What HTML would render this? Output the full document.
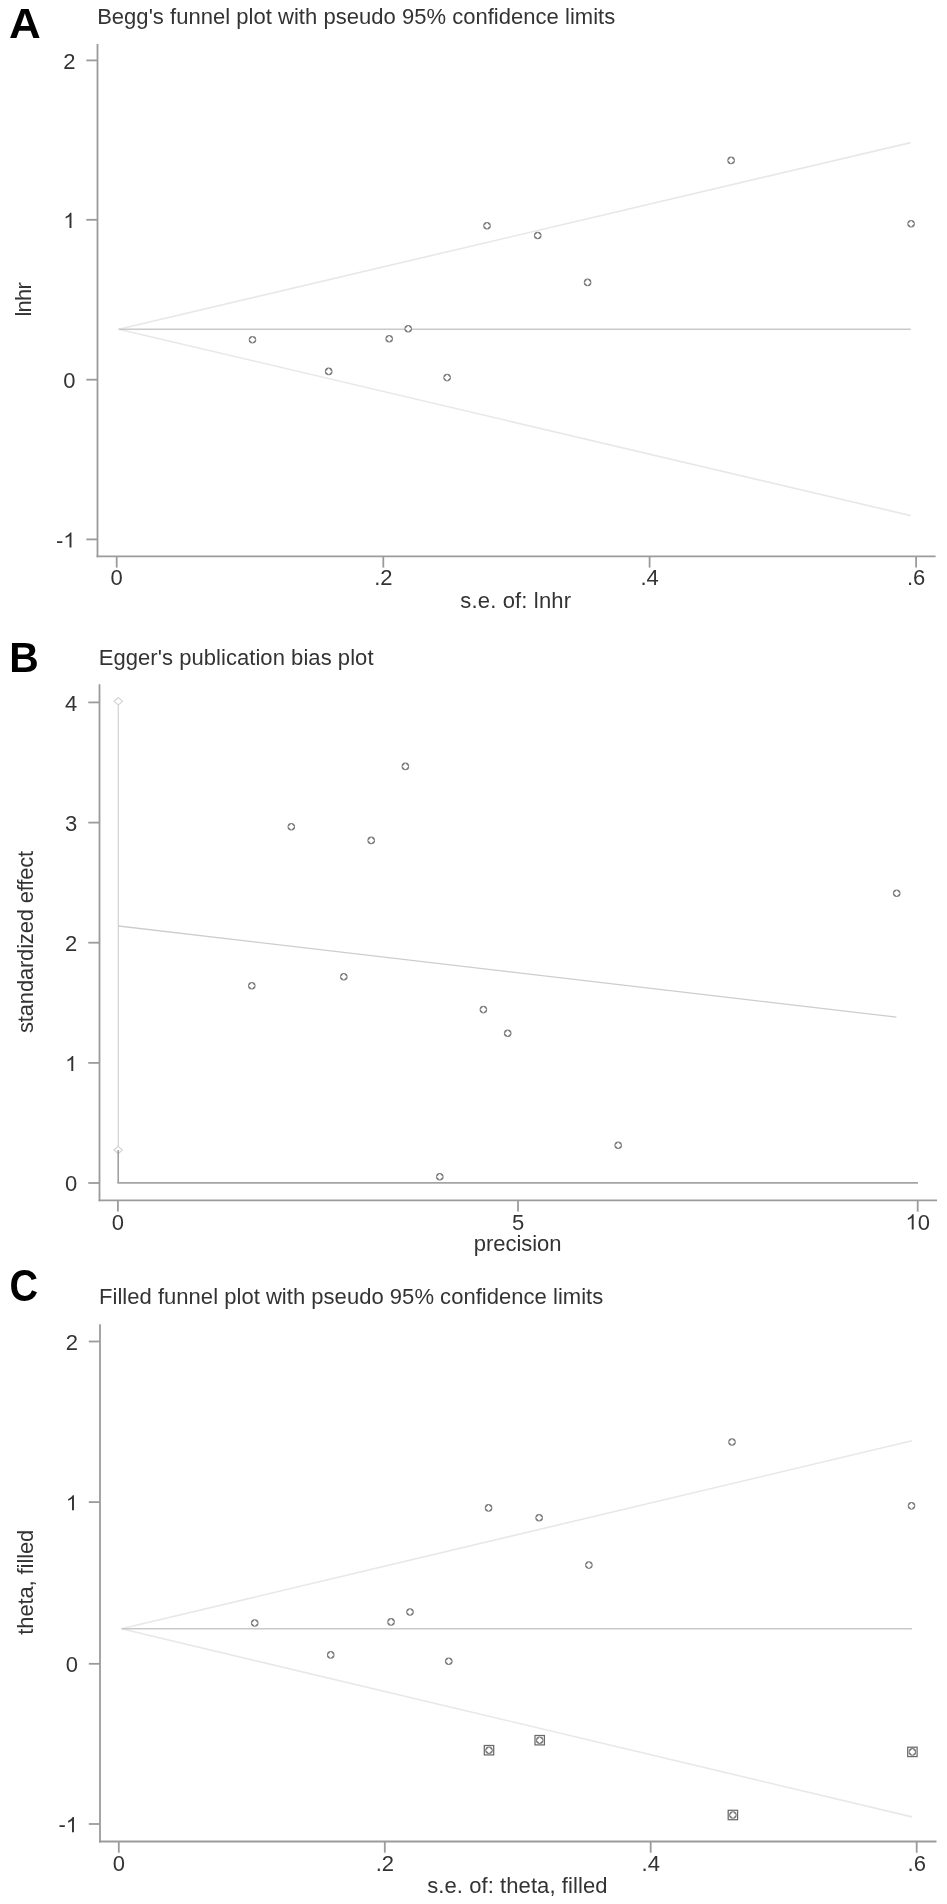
<!DOCTYPE html>
<html><head><meta charset="utf-8"><style>
html,body{margin:0;padding:0;background:#ffffff;}
body{width:947px;height:1904px;overflow:hidden;}
svg{display:block;will-change:transform;font-family:"Liberation Sans",sans-serif;}
</style></head><body>
<svg width="947" height="1904" viewBox="0 0 947 1904">
<rect width="947" height="1904" fill="#ffffff"/>
<text x="0" y="0" font-size="100" font-weight="bold" fill="#000000" transform="translate(8.91 37.75) scale(0.4397 0.4339)">A</text>
<text x="97.13" y="23.50" text-anchor="start" font-size="22" fill="#333333" textLength="518.09" lengthAdjust="spacing">Begg's funnel plot with pseudo 95% confidence limits</text>
<line x1="97.50" y1="43.90" x2="97.50" y2="557.30" stroke="#9b9b9b" stroke-width="1.8" stroke-linecap="butt"/>
<line x1="96.60" y1="556.40" x2="935.60" y2="556.40" stroke="#9b9b9b" stroke-width="1.8"/>
<line x1="86.30" y1="60.40" x2="97.50" y2="60.40" stroke="#9b9b9b" stroke-width="1.8"/>
<text x="63.26" y="68.60" font-size="22" fill="#333333">2</text>
<line x1="86.30" y1="219.80" x2="97.50" y2="219.80" stroke="#9b9b9b" stroke-width="1.8"/>
<path d="M763 0H583V1098Q518 1038 412 979Q307 920 223 890V1057Q374 1125 487 1221Q600 1318 647 1409H763V0Z" fill="#333333" transform="translate(63.26 228.00) scale(0.010742 -0.010742)"/>
<line x1="86.30" y1="379.70" x2="97.50" y2="379.70" stroke="#9b9b9b" stroke-width="1.8"/>
<text x="63.26" y="387.90" font-size="22" fill="#333333">0</text>
<line x1="86.30" y1="539.40" x2="97.50" y2="539.40" stroke="#9b9b9b" stroke-width="1.8"/>
<text x="55.94" y="547.60" font-size="22" fill="#333333">-</text>
<path d="M763 0H583V1098Q518 1038 412 979Q307 920 223 890V1057Q374 1125 487 1221Q600 1318 647 1409H763V0Z" fill="#333333" transform="translate(63.26 547.60) scale(0.010742 -0.010742)"/>
<line x1="116.70" y1="556.40" x2="116.70" y2="567.60" stroke="#9b9b9b" stroke-width="1.8"/>
<text x="110.58" y="585.40" font-size="22" fill="#333333">0</text>
<line x1="383.30" y1="556.40" x2="383.30" y2="567.60" stroke="#9b9b9b" stroke-width="1.8"/>
<text x="374.13" y="585.40" font-size="22" fill="#333333">.</text>
<text x="380.24" y="585.40" font-size="22" fill="#333333">2</text>
<line x1="649.60" y1="556.40" x2="649.60" y2="567.60" stroke="#9b9b9b" stroke-width="1.8"/>
<text x="640.43" y="585.40" font-size="22" fill="#333333">.</text>
<text x="646.54" y="585.40" font-size="22" fill="#333333">4</text>
<line x1="916.10" y1="556.40" x2="916.10" y2="567.60" stroke="#9b9b9b" stroke-width="1.8"/>
<text x="906.93" y="585.40" font-size="22" fill="#333333">.</text>
<text x="913.04" y="585.40" font-size="22" fill="#333333">6</text>
<text x="515.68" y="607.80" text-anchor="middle" font-size="22" fill="#333333" textLength="110.63" lengthAdjust="spacing">s.e. of: lnhr</text>
<text x="30.80" y="299.37" text-anchor="middle" font-size="22" fill="#333333" transform="rotate(-90 30.80 299.37)" textLength="34.42" lengthAdjust="spacing">lnhr</text>
<line x1="118.70" y1="329.20" x2="910.70" y2="142.60" stroke="#e8e8e8" stroke-width="1.6"/>
<line x1="118.70" y1="329.20" x2="910.70" y2="515.60" stroke="#e8e8e8" stroke-width="1.6"/>
<line x1="118.70" y1="329.20" x2="910.70" y2="329.20" stroke="#c9c9c9" stroke-width="1.4"/>
<circle cx="252.50" cy="339.70" r="3.8" fill="#7a7a7a"/>
<path d="M252.50 336.65L255.55 339.70L252.50 342.75L249.45 339.70Z" fill="#ffffff"/>
<circle cx="328.70" cy="371.40" r="3.8" fill="#7a7a7a"/>
<path d="M328.70 368.35L331.75 371.40L328.70 374.45L325.65 371.40Z" fill="#ffffff"/>
<circle cx="389.20" cy="338.70" r="3.8" fill="#7a7a7a"/>
<path d="M389.20 335.65L392.25 338.70L389.20 341.75L386.15 338.70Z" fill="#ffffff"/>
<circle cx="408.20" cy="328.80" r="3.8" fill="#7a7a7a"/>
<path d="M408.20 325.75L411.25 328.80L408.20 331.85L405.15 328.80Z" fill="#ffffff"/>
<circle cx="447.10" cy="377.60" r="3.8" fill="#7a7a7a"/>
<path d="M447.10 374.55L450.15 377.60L447.10 380.65L444.05 377.60Z" fill="#ffffff"/>
<circle cx="487.00" cy="225.70" r="3.8" fill="#7a7a7a"/>
<path d="M487.00 222.65L490.05 225.70L487.00 228.75L483.95 225.70Z" fill="#ffffff"/>
<circle cx="537.70" cy="235.50" r="3.8" fill="#7a7a7a"/>
<path d="M537.70 232.45L540.75 235.50L537.70 238.55L534.65 235.50Z" fill="#ffffff"/>
<circle cx="587.60" cy="282.40" r="3.8" fill="#7a7a7a"/>
<path d="M587.60 279.35L590.65 282.40L587.60 285.45L584.55 282.40Z" fill="#ffffff"/>
<circle cx="731.10" cy="160.40" r="3.8" fill="#7a7a7a"/>
<path d="M731.10 157.35L734.15 160.40L731.10 163.45L728.05 160.40Z" fill="#ffffff"/>
<circle cx="911.10" cy="223.70" r="3.8" fill="#7a7a7a"/>
<path d="M911.10 220.65L914.15 223.70L911.10 226.75L908.05 223.70Z" fill="#ffffff"/>
<text x="0" y="0" font-size="100" font-weight="bold" fill="#000000" transform="translate(9.37 672.10) scale(0.4083 0.4230)">B</text>
<text x="98.68" y="664.50" text-anchor="start" font-size="22" fill="#333333" textLength="274.84" lengthAdjust="spacing">Egger's publication bias plot</text>
<line x1="99.50" y1="684.30" x2="99.50" y2="1201.30" stroke="#9b9b9b" stroke-width="1.8" stroke-linecap="butt"/>
<line x1="98.60" y1="1200.40" x2="937.00" y2="1200.40" stroke="#9b9b9b" stroke-width="1.8"/>
<line x1="88.30" y1="702.40" x2="99.50" y2="702.40" stroke="#9b9b9b" stroke-width="1.8"/>
<text x="65.06" y="710.60" font-size="22" fill="#333333">4</text>
<line x1="88.30" y1="822.60" x2="99.50" y2="822.60" stroke="#9b9b9b" stroke-width="1.8"/>
<text x="65.06" y="830.80" font-size="22" fill="#333333">3</text>
<line x1="88.30" y1="942.70" x2="99.50" y2="942.70" stroke="#9b9b9b" stroke-width="1.8"/>
<text x="65.06" y="950.90" font-size="22" fill="#333333">2</text>
<line x1="88.30" y1="1062.90" x2="99.50" y2="1062.90" stroke="#9b9b9b" stroke-width="1.8"/>
<path d="M763 0H583V1098Q518 1038 412 979Q307 920 223 890V1057Q374 1125 487 1221Q600 1318 647 1409H763V0Z" fill="#333333" transform="translate(65.06 1071.10) scale(0.010742 -0.010742)"/>
<line x1="88.30" y1="1183.00" x2="99.50" y2="1183.00" stroke="#9b9b9b" stroke-width="1.8"/>
<text x="65.06" y="1191.20" font-size="22" fill="#333333">0</text>
<line x1="117.90" y1="1200.40" x2="117.90" y2="1211.60" stroke="#9b9b9b" stroke-width="1.8"/>
<text x="111.78" y="1229.50" font-size="22" fill="#333333">0</text>
<line x1="518.00" y1="1200.40" x2="518.00" y2="1211.60" stroke="#9b9b9b" stroke-width="1.8"/>
<text x="511.88" y="1229.50" font-size="22" fill="#333333">5</text>
<line x1="917.70" y1="1200.40" x2="917.70" y2="1211.60" stroke="#9b9b9b" stroke-width="1.8"/>
<path d="M763 0H583V1098Q518 1038 412 979Q307 920 223 890V1057Q374 1125 487 1221Q600 1318 647 1409H763V0Z" fill="#333333" transform="translate(905.46 1229.50) scale(0.010742 -0.010742)"/>
<text x="917.70" y="1229.50" font-size="22" fill="#333333">0</text>
<text x="517.64" y="1251.30" text-anchor="middle" font-size="22" fill="#333333" textLength="87.69" lengthAdjust="spacing">precision</text>
<text x="32.90" y="941.89" text-anchor="middle" font-size="22" fill="#333333" transform="rotate(-90 32.90 941.89)" textLength="182.15" lengthAdjust="spacing">standardized effect</text>
<line x1="118.30" y1="702.00" x2="118.30" y2="1150.00" stroke="#d4d4d4" stroke-width="1.3"/>
<path d="M118.30 697.60 L122.50 701.30 L118.30 705.00 L114.10 701.30 Z" fill="#ffffff" stroke="#d2d2d2" stroke-width="1.1"/>
<path d="M118.20 1146.30 L122.40 1150.00 L118.20 1153.70 L114.00 1150.00 Z" fill="#ffffff" stroke="#d2d2d2" stroke-width="1.1"/>
<line x1="118.20" y1="1150.00" x2="118.20" y2="1182.90" stroke="#9a9a9a" stroke-width="1.5"/>
<line x1="117.40" y1="1182.90" x2="918.00" y2="1182.90" stroke="#a5a5a5" stroke-width="1.6"/>
<line x1="118.50" y1="926.00" x2="896.40" y2="1017.10" stroke="#cdcdcd" stroke-width="1.3"/>
<circle cx="405.40" cy="766.40" r="3.8" fill="#7a7a7a"/>
<path d="M405.40 763.35L408.45 766.40L405.40 769.45L402.35 766.40Z" fill="#ffffff"/>
<circle cx="291.30" cy="826.70" r="3.8" fill="#7a7a7a"/>
<path d="M291.30 823.65L294.35 826.70L291.30 829.75L288.25 826.70Z" fill="#ffffff"/>
<circle cx="371.20" cy="840.40" r="3.8" fill="#7a7a7a"/>
<path d="M371.20 837.35L374.25 840.40L371.20 843.45L368.15 840.40Z" fill="#ffffff"/>
<circle cx="343.80" cy="976.70" r="3.8" fill="#7a7a7a"/>
<path d="M343.80 973.65L346.85 976.70L343.80 979.75L340.75 976.70Z" fill="#ffffff"/>
<circle cx="251.80" cy="985.80" r="3.8" fill="#7a7a7a"/>
<path d="M251.80 982.75L254.85 985.80L251.80 988.85L248.75 985.80Z" fill="#ffffff"/>
<circle cx="483.40" cy="1009.60" r="3.8" fill="#7a7a7a"/>
<path d="M483.40 1006.55L486.45 1009.60L483.40 1012.65L480.35 1009.60Z" fill="#ffffff"/>
<circle cx="507.70" cy="1033.20" r="3.8" fill="#7a7a7a"/>
<path d="M507.70 1030.15L510.75 1033.20L507.70 1036.25L504.65 1033.20Z" fill="#ffffff"/>
<circle cx="618.20" cy="1145.20" r="3.8" fill="#7a7a7a"/>
<path d="M618.20 1142.15L621.25 1145.20L618.20 1148.25L615.15 1145.20Z" fill="#ffffff"/>
<circle cx="439.80" cy="1176.70" r="3.8" fill="#7a7a7a"/>
<path d="M439.80 1173.65L442.85 1176.70L439.80 1179.75L436.75 1176.70Z" fill="#ffffff"/>
<circle cx="896.70" cy="893.20" r="3.8" fill="#7a7a7a"/>
<path d="M896.70 890.15L899.75 893.20L896.70 896.25L893.65 893.20Z" fill="#ffffff"/>
<text x="0" y="0" font-size="100" font-weight="bold" fill="#000000" transform="translate(9.48 1301.47) scale(0.3961 0.4364)">C</text>
<text x="99.02" y="1304.20" text-anchor="start" font-size="22" fill="#333333" textLength="504.20" lengthAdjust="spacing">Filled funnel plot with pseudo 95% confidence limits</text>
<line x1="100.00" y1="1324.20" x2="100.00" y2="1842.40" stroke="#9b9b9b" stroke-width="1.8" stroke-linecap="butt"/>
<line x1="99.10" y1="1841.50" x2="936.50" y2="1841.50" stroke="#9b9b9b" stroke-width="1.8"/>
<line x1="88.80" y1="1341.50" x2="100.00" y2="1341.50" stroke="#9b9b9b" stroke-width="1.8"/>
<text x="65.76" y="1349.70" font-size="22" fill="#333333">2</text>
<line x1="88.80" y1="1502.10" x2="100.00" y2="1502.10" stroke="#9b9b9b" stroke-width="1.8"/>
<path d="M763 0H583V1098Q518 1038 412 979Q307 920 223 890V1057Q374 1125 487 1221Q600 1318 647 1409H763V0Z" fill="#333333" transform="translate(65.76 1510.30) scale(0.010742 -0.010742)"/>
<line x1="88.80" y1="1663.80" x2="100.00" y2="1663.80" stroke="#9b9b9b" stroke-width="1.8"/>
<text x="65.76" y="1672.00" font-size="22" fill="#333333">0</text>
<line x1="88.80" y1="1824.00" x2="100.00" y2="1824.00" stroke="#9b9b9b" stroke-width="1.8"/>
<text x="58.44" y="1832.20" font-size="22" fill="#333333">-</text>
<path d="M763 0H583V1098Q518 1038 412 979Q307 920 223 890V1057Q374 1125 487 1221Q600 1318 647 1409H763V0Z" fill="#333333" transform="translate(65.76 1832.20) scale(0.010742 -0.010742)"/>
<line x1="118.80" y1="1841.50" x2="118.80" y2="1852.70" stroke="#9b9b9b" stroke-width="1.8"/>
<text x="112.68" y="1870.80" font-size="22" fill="#333333">0</text>
<line x1="384.80" y1="1841.50" x2="384.80" y2="1852.70" stroke="#9b9b9b" stroke-width="1.8"/>
<text x="375.63" y="1870.80" font-size="22" fill="#333333">.</text>
<text x="381.74" y="1870.80" font-size="22" fill="#333333">2</text>
<line x1="650.70" y1="1841.50" x2="650.70" y2="1852.70" stroke="#9b9b9b" stroke-width="1.8"/>
<text x="641.53" y="1870.80" font-size="22" fill="#333333">.</text>
<text x="647.64" y="1870.80" font-size="22" fill="#333333">4</text>
<line x1="916.70" y1="1841.50" x2="916.70" y2="1852.70" stroke="#9b9b9b" stroke-width="1.8"/>
<text x="907.53" y="1870.80" font-size="22" fill="#333333">.</text>
<text x="913.64" y="1870.80" font-size="22" fill="#333333">6</text>
<text x="517.33" y="1893.20" text-anchor="middle" font-size="22" fill="#333333" textLength="180.36" lengthAdjust="spacing">s.e. of: theta, filled</text>
<text x="33.50" y="1582.22" text-anchor="middle" font-size="22" fill="#333333" transform="rotate(-90 33.50 1582.22)" textLength="105.06" lengthAdjust="spacing">theta, filled</text>
<line x1="121.50" y1="1628.80" x2="911.90" y2="1440.80" stroke="#e8e8e8" stroke-width="1.6"/>
<line x1="121.50" y1="1628.80" x2="911.90" y2="1816.90" stroke="#e8e8e8" stroke-width="1.6"/>
<line x1="121.50" y1="1628.80" x2="911.90" y2="1628.80" stroke="#c9c9c9" stroke-width="1.4"/>
<circle cx="254.72" cy="1622.93" r="3.8" fill="#7a7a7a"/>
<path d="M254.72 1619.88L257.77 1622.93L254.72 1625.98L251.67 1622.93Z" fill="#ffffff"/>
<circle cx="330.71" cy="1654.92" r="3.8" fill="#7a7a7a"/>
<path d="M330.71 1651.87L333.76 1654.92L330.71 1657.97L327.66 1654.92Z" fill="#ffffff"/>
<circle cx="391.04" cy="1621.92" r="3.8" fill="#7a7a7a"/>
<path d="M391.04 1618.87L394.09 1621.92L391.04 1624.97L387.99 1621.92Z" fill="#ffffff"/>
<circle cx="409.99" cy="1611.93" r="3.8" fill="#7a7a7a"/>
<path d="M409.99 1608.88L413.04 1611.93L409.99 1614.98L406.94 1611.93Z" fill="#ffffff"/>
<circle cx="448.78" cy="1661.18" r="3.8" fill="#7a7a7a"/>
<path d="M448.78 1658.13L451.83 1661.18L448.78 1664.23L445.73 1661.18Z" fill="#ffffff"/>
<circle cx="488.57" cy="1507.89" r="3.8" fill="#7a7a7a"/>
<path d="M488.57 1504.84L491.62 1507.89L488.57 1510.94L485.52 1507.89Z" fill="#ffffff"/>
<circle cx="539.13" cy="1517.78" r="3.8" fill="#7a7a7a"/>
<path d="M539.13 1514.73L542.18 1517.78L539.13 1520.83L536.08 1517.78Z" fill="#ffffff"/>
<circle cx="588.89" cy="1565.11" r="3.8" fill="#7a7a7a"/>
<path d="M588.89 1562.06L591.94 1565.11L588.89 1568.16L585.84 1565.11Z" fill="#ffffff"/>
<circle cx="732.00" cy="1441.99" r="3.8" fill="#7a7a7a"/>
<path d="M732.00 1438.94L735.05 1441.99L732.00 1445.04L728.95 1441.99Z" fill="#ffffff"/>
<circle cx="911.50" cy="1505.87" r="3.8" fill="#7a7a7a"/>
<path d="M911.50 1502.82L914.55 1505.87L911.50 1508.92L908.45 1505.87Z" fill="#ffffff"/>
<rect x="484.30" y="1745.50" width="9.40" height="9.40" fill="#ffffff" stroke="#6a6a6a" stroke-width="1.25"/>
<circle cx="489.00" cy="1750.20" r="3.8" fill="#7a7a7a"/>
<path d="M489.00 1747.15L492.05 1750.20L489.00 1753.25L485.95 1750.20Z" fill="#ffffff"/>
<rect x="535.00" y="1735.50" width="9.40" height="9.40" fill="#ffffff" stroke="#6a6a6a" stroke-width="1.25"/>
<circle cx="539.70" cy="1740.20" r="3.8" fill="#7a7a7a"/>
<path d="M539.70 1737.15L542.75 1740.20L539.70 1743.25L536.65 1740.20Z" fill="#ffffff"/>
<rect x="728.20" y="1810.30" width="9.40" height="9.40" fill="#ffffff" stroke="#6a6a6a" stroke-width="1.25"/>
<circle cx="732.90" cy="1815.00" r="3.8" fill="#7a7a7a"/>
<path d="M732.90 1811.95L735.95 1815.00L732.90 1818.05L729.85 1815.00Z" fill="#ffffff"/>
<rect x="907.70" y="1747.20" width="9.40" height="9.40" fill="#ffffff" stroke="#6a6a6a" stroke-width="1.25"/>
<circle cx="912.40" cy="1751.90" r="3.8" fill="#7a7a7a"/>
<path d="M912.40 1748.85L915.45 1751.90L912.40 1754.95L909.35 1751.90Z" fill="#ffffff"/>
</svg>
</body></html>
